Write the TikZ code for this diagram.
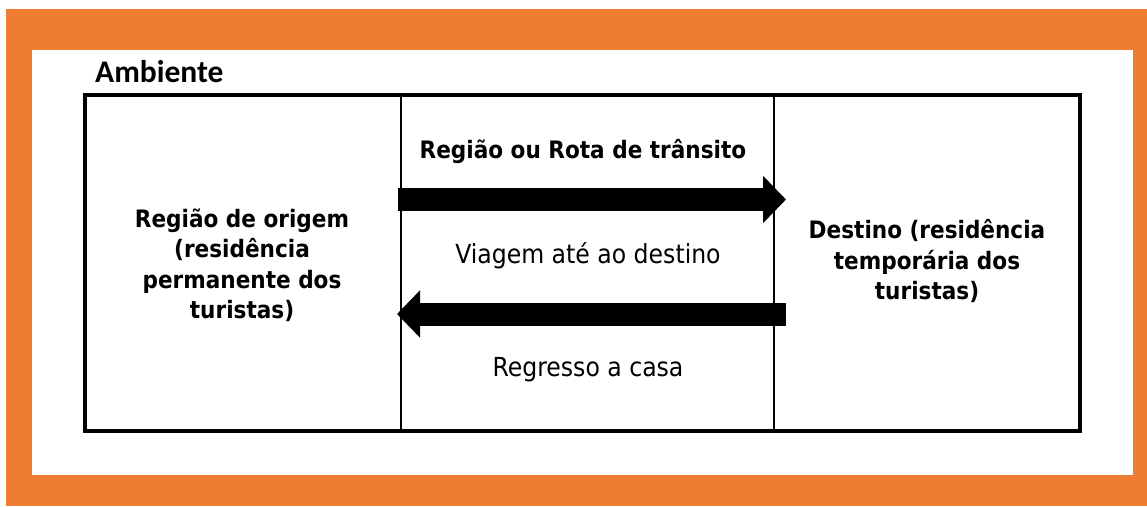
\documentclass[tikz,border=0pt]{standalone}
\usepackage{fontspec}
\setmainfont{DejaVu Sans Condensed}
\newfontfamily\calfont{Carlito}
\usetikzlibrary{arrows.meta}
\definecolor{frameorange}{HTML}{ED7D31}
\tikzset{
  txt/.style={font=\fontsize{26.2}{30}\selectfont, align=center, inner sep=0pt},
  btxt/.style={txt, font=\fontsize{24}{30.5}\selectfont\bfseries},
  bigarrow/.style={line width=23pt, -{Triangle[length=23pt,width=46pt]}},
  cellline/.style={line width=2.5pt},
}
\begin{document}
\begin{tikzpicture}[x=1pt,y=-1pt]
\useasboundingbox (0,0) rectangle (1147,506);
\fill[white] (0,0) rectangle (1147,506);
\fill[frameorange] (6,9) rectangle (1147,506);
\fill[white] (32,50) rectangle (1133,475);
% box
\draw[line width=4pt] (85,95) rectangle (1080,431);
\coordinate (l1t) at (401,95);
\coordinate (l1b) at (401,431);
\coordinate (l2t) at (774,95);
\coordinate (l2b) at (774,431);
\draw[cellline] (l1t) -- (l1b);
\draw[cellline] (l2t) -- (l2b);
% texts
\node[anchor=base west, inner sep=0pt, font=\calfont\fontsize{31.5}{32}\selectfont\bfseries] (amb) at (95,82) {Ambiente};
\node[btxt] (orig) at (242,265) {Região de origem\\(residência\\permanente dos\\turistas)};
\node[btxt] (dest) at (927,261) {Destino (residência\\temporária dos\\turistas)};
\node[btxt] (rota) at (583,151) {Região ou Rota de trânsito};
\node[txt] (viag) at (588,256) {Viagem até ao destino};
\node[txt] (regr) at (588,370) {Regresso a casa};
% arrows
\coordinate (goS) at (398,199.5);
\coordinate (goE) at (786,199.5);
\coordinate (backS) at (786,314);
\coordinate (backE) at (397,314);
\draw[bigarrow] (goS) -- (goE);
\draw[bigarrow] (backS) -- (backE);
\end{tikzpicture}
\end{document}
